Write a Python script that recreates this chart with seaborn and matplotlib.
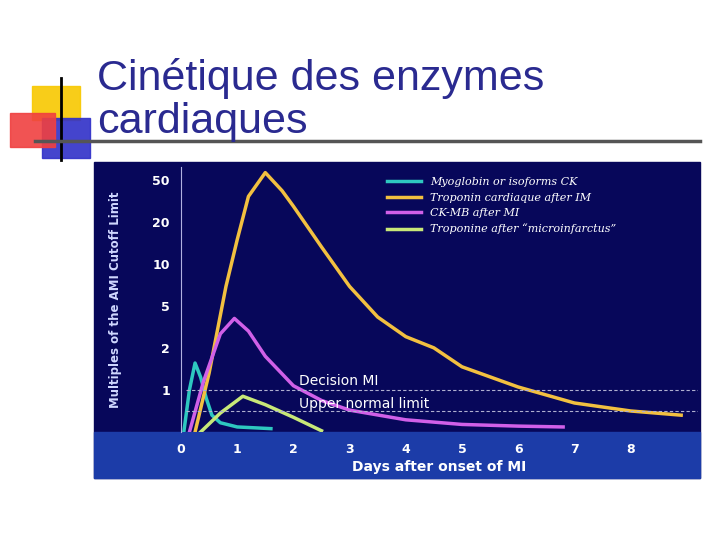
import numpy as np
import pandas as pd
import matplotlib
matplotlib.use('Agg')
from matplotlib import pyplot as plt
from matplotlib.patches import Rectangle
import seaborn as sns

# tick values of the stretched y axis and their positions
yTickVals = [0, 1, 2, 5, 10, 20, 50, 80]
yTickPos = [0, 1, 2, 3, 4, 5, 6, 7]

myoX = [0.05, 0.15, 0.25, 0.35, 0.45, 0.55, 0.7, 1.0, 1.6]
myoY = [0, 1.0, 1.64, 1.3, 0.8, 0.4, 0.22, 0.12, 0.08]
tropX = [0.25, 0.5, 0.8, 1.0, 1.2, 1.5, 1.8, 2.0, 2.5, 3.0, 3.5, 4.0, 4.5, 5.0, 6.0, 7.0, 8.0, 8.9]
tropY = [0, 1.4, 7.3, 15.7, 38, 55, 42, 31, 14, 7.3, 4.2, 2.8, 2.0, 1.55, 1.07, 0.69, 0.5, 0.4]
ckX = [0.15, 0.4, 0.7, 0.95, 1.2, 1.5, 2.0, 2.5, 3.0, 4.0, 5.0, 6.0, 6.8]
ckY = [0, 1.2, 3.0, 4.1, 3.2, 1.8, 1.1, 0.75, 0.52, 0.29, 0.18, 0.14, 0.12]
microX = [0.35, 0.7, 1.1, 1.5, 2.0, 2.5]
microY = [0, 0.45, 0.85, 0.65, 0.35, 0.03]

series = [
    ("Myoglobin or isoforms CK", myoX, myoY, "#2ec8c0"),
    ("Troponin cardiaque after IM", tropX, tropY, "#f2c040"),
    ("CK-MB after MI", ckX, ckY, "#d060e8"),
    ("Troponine after \u201cmicroinfarctus\u201d", microX, microY, "#c8e878"),
]


def fwd(v):
    return np.interp(v, yTickVals, yTickPos)


def inv(p):
    return np.interp(p, yTickPos, yTickVals)


def px(x, y, w, h):
    # pixel box (top-left origin) to figure coords
    return [x / 720, 1 - (y + h) / 540, w / 720, h / 540]


fig = plt.figure(figsize=(7.2, 5.4), dpi=100)
fig.patch.set_facecolor("white")

# slide decoration
deco = [
    (32, 86, 48, 34, "#f8c800"),
    (42, 118, 48, 40, "#3030c8"),
    (10, 113, 45, 34, "#f04040"),
]
for x, y, w, h, c in deco:
    b = px(x, y, w, h)
    fig.patches.append(Rectangle((b[0], b[1]), b[2], b[3], color=c,
                                 transform=fig.transFigure, zorder=0, alpha=0.9))
fig.add_artist(plt.Line2D([61 / 720, 61 / 720], [1 - 160 / 540, 1 - 78 / 540],
                          color="black", lw=2, transform=fig.transFigure))
fig.add_artist(plt.Line2D([35 / 720, 700 / 720], [1 - 141 / 540, 1 - 141 / 540],
                          color="#555555", lw=2.5, transform=fig.transFigure))
fig.text(97 / 720, 1 - 100 / 540, "Cinétique des enzymes\ncardiaques",
         fontsize=31, color="#2a2a90", family="Liberation Sans",
         va="center", ha="left", linespacing=1.1)

# chart image background
b = px(94, 162, 606, 316)
fig.patches.append(Rectangle((b[0], b[1]), b[2], b[3], color="#07075a",
                             transform=fig.transFigure, zorder=0))
b = px(94, 432, 606, 46)
fig.patches.append(Rectangle((b[0], b[1]), b[2], b[3], color="#1c3ca8",
                             transform=fig.transFigure, zorder=0))

ax = fig.add_axes(px(181, 167, 517, 265))
ax.set_zorder(3)
ax.set_facecolor("none")
ax.set_yscale("function", functions=(fwd, inv))
for name, xs, ys, c in series:
    sns.lineplot(x=xs, y=ys, ax=ax, color=c, lw=2.5, label=name)

ax.axhline(1, xmin=0.01, color="#b0b0d0", lw=0.8, ls=(0, (3, 2)))
ax.axhline(0.5, xmin=0.01, color="#b0b0d0", lw=0.8, ls=(0, (3, 2)))
ax.text(2.1, 1.12, "Decision MI", color="white", fontsize=10)
ax.text(2.1, 0.58, "Upper normal limit", color="white", fontsize=10)

ax.set_xlim(0, 9.2)
ax.set_ylim(0, inv(6.3))
ax.set_yticks([1, 2, 5, 10, 20, 50])
ax.set_yticklabels(["1", "2", "5", "10", "20", "50"])
ax.set_xticks(range(9))
ax.tick_params(colors="white", length=0, labelsize=9, pad=8)
for lab in ax.get_xticklabels() + ax.get_yticklabels():
    lab.set_fontweight("bold")
for s in ["top", "right", "bottom"]:
    ax.spines[s].set_visible(False)
ax.spines["left"].set_color("#b0b0e0")
ax.set_xlabel("Days after onset of MI", color="white", fontsize=10,
              fontweight="bold", labelpad=3)
ax.set_ylabel("Multiples of the AMI Cutoff Limit", color="#d0d8ff", fontsize=8.5,
              fontweight="bold", labelpad=22)

leg = ax.legend(loc="upper left", bbox_to_anchor=(0.38, 1.0), frameon=False,
                handlelength=3, prop={"family": "DejaVu Serif", "style": "italic", "size": 8})
for t in leg.get_texts():
    t.set_color("white")

plt.savefig("out.png", dpi=100)
plt.close()
